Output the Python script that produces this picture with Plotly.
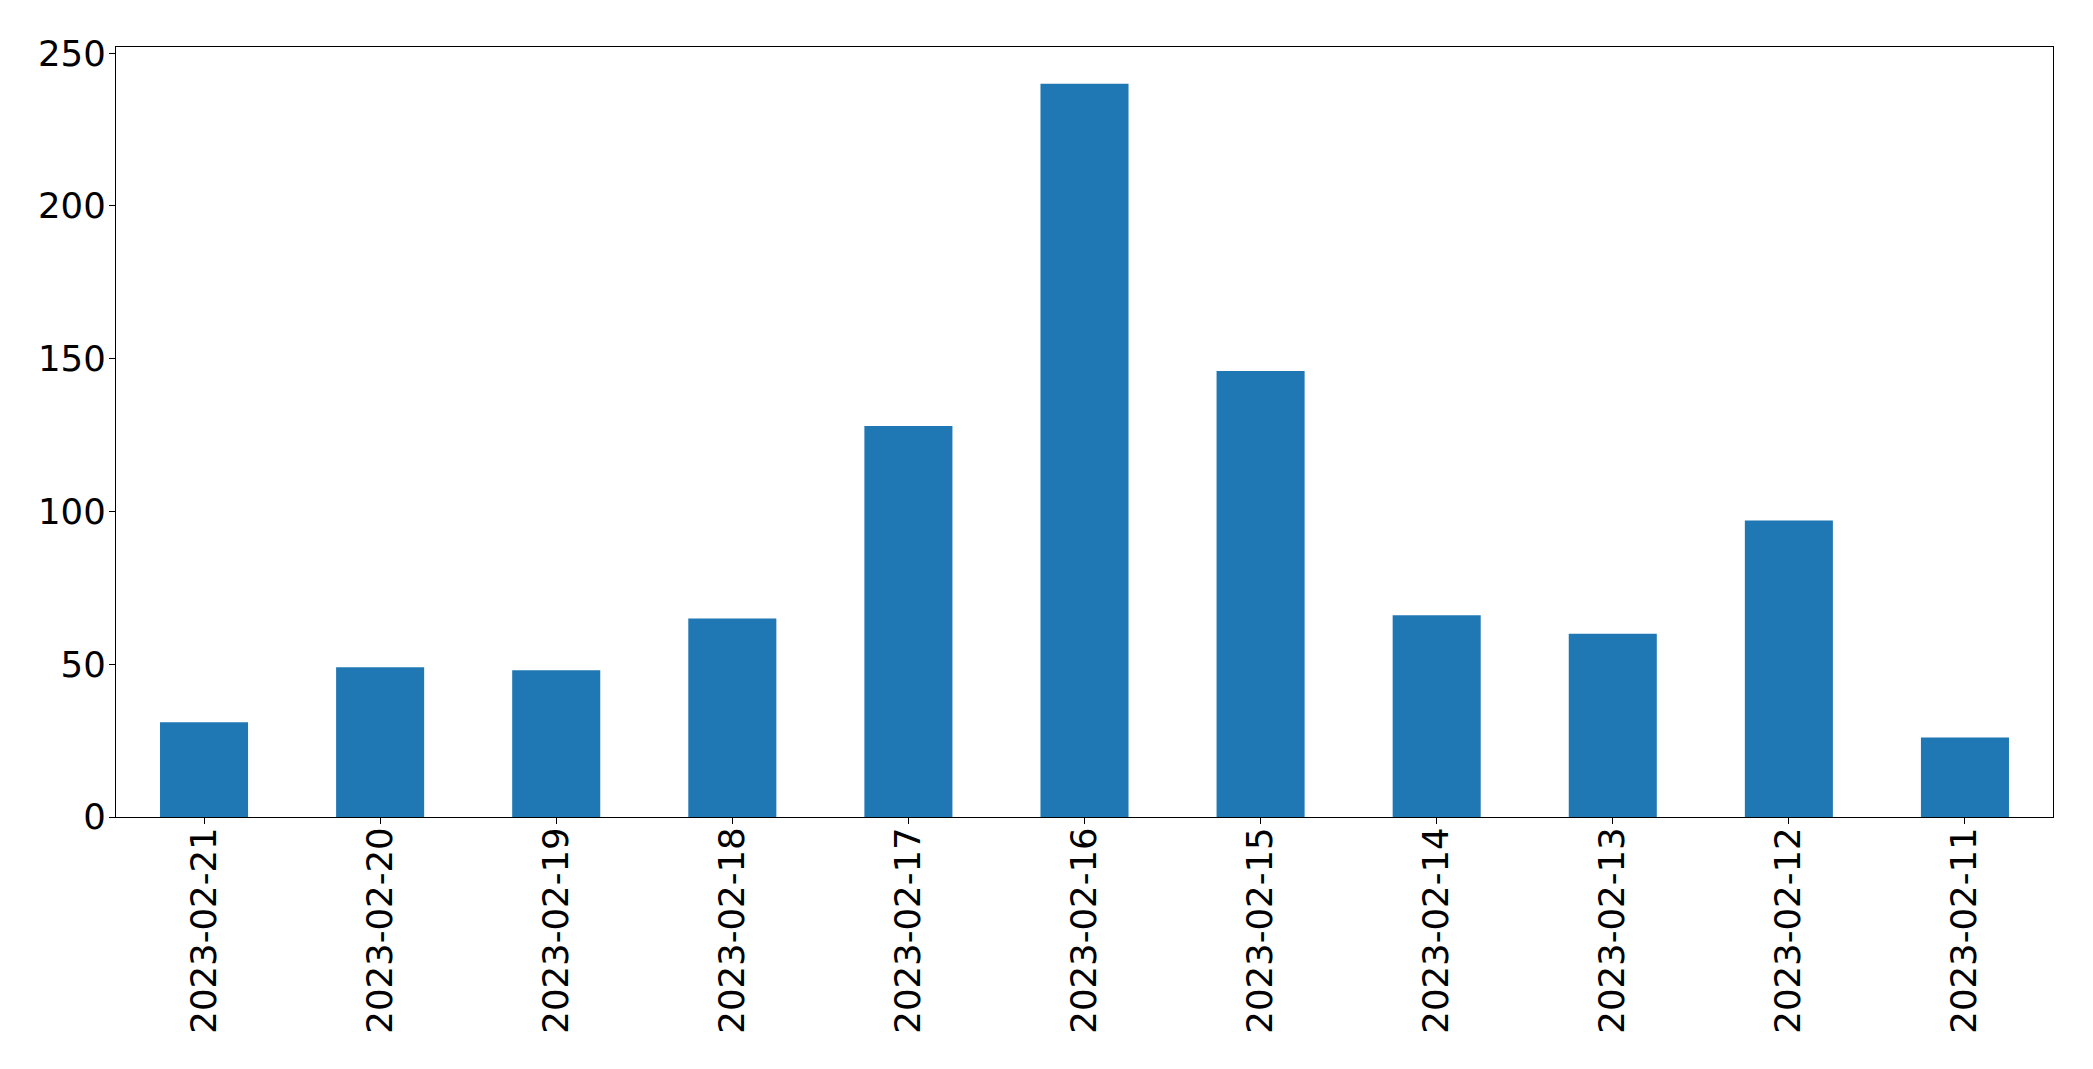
import plotly.graph_objects as go

dates = ["2023-02-21", "2023-02-20", "2023-02-19", "2023-02-18", "2023-02-17",
         "2023-02-16", "2023-02-15", "2023-02-14", "2023-02-13", "2023-02-12", "2023-02-11"]
counts = [31, 49, 48, 65, 128, 240, 146, 66, 60, 97, 26]
y_ticks = [0, 50, 100, 150, 200, 250]

fig = go.Figure(go.Bar(x=dates, y=counts, marker=dict(color="#1f77b4", line=dict(width=0)), width=0.5))

font = dict(family="DejaVu Sans", size=35.5, color="black")
fig.update_layout(
    width=2093, height=1069,
    margin=dict(l=108, r=48, t=39, b=260),
    plot_bgcolor="white", paper_bgcolor="white",
    showlegend=False,
    font=font,
)
fig.update_xaxes(
    type="category", range=[-0.5, len(dates) - 0.5],
    tickangle=-90, ticks="outside", ticklen=6, tickwidth=1.3, tickcolor="black",
    showline=True, linecolor="black", linewidth=1.3, mirror=True,
    showgrid=False, zeroline=False, tickfont=font, ticklabelstandoff=-11,
)
fig.update_yaxes(
    range=[0, 252], tickvals=y_ticks, ticktext=[str(v) for v in y_ticks],
    ticks="outside", ticklen=6, tickwidth=1.3, tickcolor="black",
    showline=True, linecolor="black", linewidth=1.3, mirror=True,
    showgrid=False, zeroline=False, tickfont=font, ticklabelstandoff=-4,
)
fig.write_html("out.html")
